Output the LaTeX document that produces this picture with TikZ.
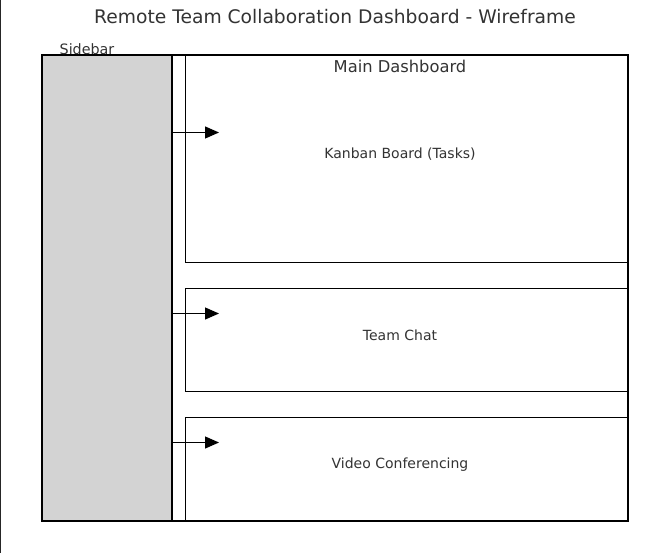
\documentclass[tikz,border=0pt]{standalone}
\usepackage{fontspec}
\setmainfont{DejaVu Sans}
\usetikzlibrary{arrows.meta}
\definecolor{txt}{HTML}{333333}
\definecolor{sidefill}{HTML}{D3D3D3}
\tikzset{
  panel/.style={draw=black, line width=0.9pt, inner sep=0pt},
  lbl/.style={text=txt, font=\fontsize{14}{16}\selectfont, inner sep=0pt},
  arr/.style={line width=1.2pt, -{Triangle[length=14pt,width=12pt]}},
}
\begin{document}
\begin{tikzpicture}[x=1pt,y=-1pt]
\useasboundingbox (0,0) rectangle (663,553);
\fill[white] (0,0) rectangle (663,553);
% left edge line
\coordinate (et) at (0.6,0);
\coordinate (eb) at (0.6,553);
\draw[line width=1.2pt, black!85] (et) -- (eb);
% title
\node[text=txt, font=\fontsize{18.7}{22}\selectfont, inner sep=0pt] (title) at (335,17) {Remote Team Collaboration Dashboard - Wireframe};
% sidebar
\path[fill=sidefill, draw=black, line width=1.1pt] (42,55) rectangle (172,521);
\node[panel, minimum width=130pt, minimum height=466pt, draw=none] (sidebar) at (107,288) {};
% main dashboard
\node[panel, minimum width=456pt, minimum height=466pt] (main) at (400,288) {};
% panels
\node[panel, minimum width=443pt, minimum height=207pt] (kanban) at (406.5,158.5) {};
\node[panel, minimum width=443pt, minimum height=103pt] (chat) at (406.5,339.5) {};
\node[panel, minimum width=443pt, minimum height=104pt] (video) at (406.5,469) {};
% outer border
\draw[line width=2pt, black] (42,55) rectangle (628,521);
% labels
\node[lbl, font=\fontsize{14.3}{16}\selectfont, anchor=base] (sidelbl) at (87,54.5) {Sidebar};
\node[lbl, font=\fontsize{16.3}{18}\selectfont] (mainlbl) at (400,66) {Main Dashboard};
\node[lbl] (kanbanlbl) at (400,154.5) {Kanban Board (Tasks)};
\node[lbl] (chatlbl) at (400,335) {Team Chat};
\node[lbl] (videolbl) at (400,464.5) {Video Conferencing};
% arrows
\coordinate (k1) at (219,132.5);
\coordinate (c1) at (219,313.5);
\coordinate (v1) at (219,442.5);
\draw[arr] (sidebar.east |- k1) -- (k1);
\draw[arr] (sidebar.east |- c1) -- (c1);
\draw[arr] (sidebar.east |- v1) -- (v1);
\end{tikzpicture}
\end{document}
